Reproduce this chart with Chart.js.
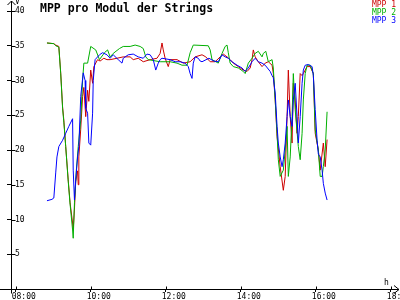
<!DOCTYPE html>
<html>
<head>
<meta charset="utf-8">
<script src="https://cdn.jsdelivr.net/npm/chart.js@4.4.1/dist/chart.umd.min.js"></script>
<style>
  body { margin: 0; background: #fff; overflow: hidden; }
  canvas { display: block; }
</style>
</head>
<body>
<canvas id="mppChart" width="400" height="300"></canvas>
<script>
const chartTitle = 'MPP pro Modul der Strings';
const seriesNames = ['MPP 1', 'MPP 2', 'MPP 3'];
const seriesColors = ['#cc0000', '#00b000', '#0000ff'];

const xTickValues = [8, 10, 12, 14, 16, 18];
const xTickLabels = ['08:00', '10:00', '12:00', '14:00', '16:00', '18:00'];
const yTickValues = [0, 5, 10, 15, 20, 25, 30, 35, 40];

const mpp1Times = ['08:50','09:01','09:04','09:09','09:12','09:15','09:17','09:20','09:24','09:27','09:31','09:32','09:34','09:36','09:39','09:40','09:41','09:44','09:47','09:49','09:52','09:55','09:57','10:00','10:03','10:05','10:11','10:15','10:21','10:26','10:31','10:42','10:52','11:03','11:08','11:16','11:24','11:35','11:46','11:51','11:54','11:56','11:59','12:04','12:07','12:18','12:28','12:39','12:47','12:58','13:04','13:11','13:19','13:27','13:32','13:38','13:43','13:48','13:56','14:04','14:10','14:15','14:18','14:20','14:23','14:28','14:34','14:39','14:44','14:50','14:52','14:55','14:58','15:03','15:08','15:11','15:14','15:16','15:19','15:22','15:24','15:27','15:30','15:32','15:35','15:38','15:40','15:46','15:51','15:56','15:59','16:04','16:07','16:12','16:15','16:18'];
const mpp1Values = [35.4,35.3,35.1,34.9,31.1,26.2,24.3,20.5,15.7,12.4,9.5,8.5,11.5,15.5,17,15,19,23,27.7,29,24.8,28.6,27,31.5,29.6,32,33,32.8,33.2,33,33,33.2,33.4,33.4,33,33.2,32.7,33,33.2,33.9,35.4,34.4,33.2,32,33,33,32.5,32.7,33.4,33.7,33.4,32.7,32.7,33.4,33.8,33.4,33,32.5,32,31.5,31.3,31.8,33,34.4,33.4,32.7,32,32.5,32.7,32.2,31,27.2,21.9,17.6,14.2,16.2,24.8,31.5,24.8,21,29.6,27.2,22.4,24.8,31,30.7,31,32,32,31,22.4,20,17.1,21,17.6,21.5];

const mpp2Times = ['08:50','09:01','09:04','09:09','09:12','09:15','09:17','09:20','09:24','09:27','09:31','09:32','09:34','09:37','09:40','09:44','09:47','09:49','09:55','10:00','10:08','10:14','10:22','10:27','10:31','10:36','10:46','10:52','11:03','11:11','11:19','11:24','11:28','11:32','11:51','12:07','12:18','12:26','12:34','12:39','12:44','13:08','13:11','13:14','13:24','13:30','13:35','13:38','13:40','13:43','13:48','13:56','14:04','14:07','14:12','14:18','14:23','14:28','14:34','14:36','14:40','14:44','14:50','14:52','14:55','14:58','15:00','15:03','15:08','15:11','15:14','15:16','15:19','15:22','15:24','15:27','15:32','15:35','15:38','15:40','15:43','15:46','15:51','15:56','15:59','16:04','16:07','16:10','16:12','16:15','16:18'];
const mpp2Values = [35.4,35.3,35,34.8,31,26,24,20.5,15.5,12.2,8.5,7.3,12.4,17.1,20.5,24.3,30,32.5,32.5,34.9,34.4,33,34,34.4,33.4,33.9,34.6,34.9,34.9,35.1,34.9,34.6,33.4,33,32.7,32.7,32.5,32.2,32.2,34,35.1,35,34.4,33,32.5,33.9,34.9,35.1,34,32.5,32,31.8,31.3,31,32.5,33.2,33.9,34.2,33.4,33.9,34.2,32.7,33,31.8,27.2,22.4,18.6,16.2,17.1,20,23.4,16.2,19,24.8,31,25.8,20.5,18.6,22.4,27.2,31,32.2,32.2,31,22.9,20,16.2,16.2,17.6,20,25.5];

const mpp3Times = ['08:50','08:58','09:01','09:04','09:06','09:09','09:15','09:20','09:25','09:31','09:32','09:34','09:36','09:39','09:41','09:44','09:48','09:51','09:52','09:55','09:57','10:00','10:03','10:04','10:07','10:14','10:19','10:26','10:31','10:36','10:44','10:50','10:52','11:00','11:08','11:16','11:24','11:30','11:35','11:40','11:44','11:48','11:51','11:54','12:07','12:15','12:23','12:31','12:36','12:39','12:42','12:44','12:47','12:52','12:55','12:58','13:09','13:17','13:24','13:30','13:35','13:40','13:46','13:54','14:02','14:07','14:12','14:18','14:23','14:28','14:34','14:39','14:47','14:50','14:52','14:55','14:58','15:00','15:03','15:06','15:08','15:11','15:14','15:16','15:19','15:22','15:24','15:27','15:30','15:32','15:35','15:38','15:40','15:43','15:48','15:54','15:56','15:59','16:02','16:04','16:07','16:10','16:12','16:15','16:18'];
const mpp3Values = [12.7,12.9,13.1,16.7,19,20.5,21.4,22.4,23.4,24.5,17.1,12.8,15.7,19,20.5,27.7,31.1,30,26,25.3,21,20.7,25.3,30,33,33.7,34,33.7,33.2,33.7,33,32.5,33.2,33.7,33.8,33.4,33.2,33.8,33.7,33,31.5,32.5,33,33.2,33,32.7,32.7,32.5,32,31,30.3,32.5,33.4,33.2,32.8,32.7,33.2,32.8,32.7,33.7,33.4,33.2,32.7,32.2,31.8,31.3,31.8,32.7,33.2,32.7,32.5,32.2,31.3,30.7,30.4,28.2,23.4,21,19,17.6,18.6,21,24.8,27.2,24.8,23.4,27.2,29.6,24.8,21,24.8,29.6,31.5,32.2,32.3,32,30.7,25.8,21.4,19.4,19,17.1,15.2,13.8,12.8];

const monoFont = '"DejaVu Sans Mono", "Liberation Mono", monospace';

// "HH:MM" -> decimal hours
function toHours(t) {
  const parts = t.split(':');
  return parseInt(parts[0], 10) + parseInt(parts[1], 10) / 60;
}

function toPoints(times, values) {
  return times.map((t, i) => ({ x: toHours(t), y: values[i] }));
}

// axis arrows, inner tick halves, title, legend and unit labels
const decorPlugin = {
  id: 'decor',
  afterDraw(chart) {
    const ctx = chart.ctx;
    const a = chart.chartArea;
    const xs = chart.scales.x;
    const ys = chart.scales.y;
    const ax = Math.round(a.left) + 0.5;
    const ay = Math.round(a.bottom) + 0.5;

    ctx.save();
    ctx.strokeStyle = '#000';
    ctx.lineWidth = 1;
    ctx.beginPath();
    // y axis, extended up with an arrow
    ctx.moveTo(ax, ay + 4);
    ctx.lineTo(ax, 1);
    ctx.moveTo(ax - 4, 5);
    ctx.lineTo(ax, 1);
    ctx.lineTo(ax + 4, 5);
    // x axis, extended both ways with an arrow
    ctx.moveTo(0, ay);
    ctx.lineTo(399, ay);
    ctx.moveTo(394, ay - 4);
    ctx.lineTo(399, ay);
    ctx.lineTo(394, ay + 4);
    // tick marks inside the plot
    ys.ticks.forEach(t => {
      if (t.value === 0) return;
      const py = Math.round(ys.getPixelForValue(t.value)) + 0.5;
      ctx.moveTo(ax, py);
      ctx.lineTo(ax + 4, py);
    });
    xs.ticks.forEach(t => {
      const px = Math.round(xs.getPixelForValue(t.value)) + 0.5;
      ctx.moveTo(px, ay);
      ctx.lineTo(px, ay - 3);
    });
    ctx.stroke();

    ctx.fillStyle = '#000';
    ctx.textBaseline = 'alphabetic';
    ctx.textAlign = 'left';
    ctx.font = 'bold 11.5px ' + monoFont;
    ctx.fillText(chartTitle, 40, 12);

    ctx.font = '8px ' + monoFont;
    ctx.fillText('V', 15, 4);
    ctx.fillText('h', 384, 285);

    ctx.textAlign = 'right';
    chart.data.datasets.forEach((ds, i) => {
      ctx.fillStyle = ds.borderColor;
      ctx.fillText(ds.label, 396, 7 + i * 7.8);
    });
    ctx.restore();
  }
};

const ctx = document.getElementById('mppChart').getContext('2d');
const mppChart = new Chart(ctx, {
  type: 'line',
  data: {
    datasets: [
      { label: seriesNames[0], data: toPoints(mpp1Times, mpp1Values), borderColor: seriesColors[0], order: 3 },
      { label: seriesNames[1], data: toPoints(mpp2Times, mpp2Values), borderColor: seriesColors[1], order: 2 },
      { label: seriesNames[2], data: toPoints(mpp3Times, mpp3Values), borderColor: seriesColors[2], order: 1 }
    ]
  },
  options: {
    responsive: false,
    animation: false,
    layout: { padding: { top: 11, right: 2, bottom: 0, left: 0 } },
    elements: {
      line: { borderWidth: 1, tension: 0, fill: false },
      point: { radius: 0 }
    },
    plugins: {
      legend: { display: false },
      title: { display: false },
      tooltip: { enabled: false }
    },
    scales: {
      x: {
        type: 'linear',
        min: 7.875,
        max: 18.19,
        afterBuildTicks: scale => {
          scale.ticks = xTickValues.map(v => ({ value: v }));
        },
        afterFit: scale => {
          scale.height = 11;
          scale.paddingLeft = 0;
          scale.paddingRight = 0;
        },
        grid: { drawOnChartArea: false, drawTicks: true, tickLength: 3, color: '#000' },
        border: { display: false },
        ticks: {
          autoSkip: false,
          maxRotation: 0,
          align: 'start',
          labelOffset: -4,
          padding: 0,
          color: '#000',
          font: { family: monoFont, size: 8 },
          callback: value => xTickLabels[xTickValues.indexOf(value)]
        }
      },
      y: {
        min: 0,
        max: 40,
        afterBuildTicks: scale => {
          scale.ticks = yTickValues.map(v => ({ value: v }));
        },
        afterFit: scale => {
          scale.width = 11;
          scale.paddingTop = 0;
          scale.paddingBottom = 0;
        },
        grid: { drawOnChartArea: false, drawTicks: true, tickLength: 4, color: '#000' },
        border: { display: false },
        ticks: {
          mirror: true,
          padding: 4,
          color: '#000',
          font: { family: monoFont, size: 8 },
          callback: value => (value === 0 ? '' : String(value))
        }
      }
    }
  },
  plugins: [decorPlugin]
});
</script>
</body>
</html>
